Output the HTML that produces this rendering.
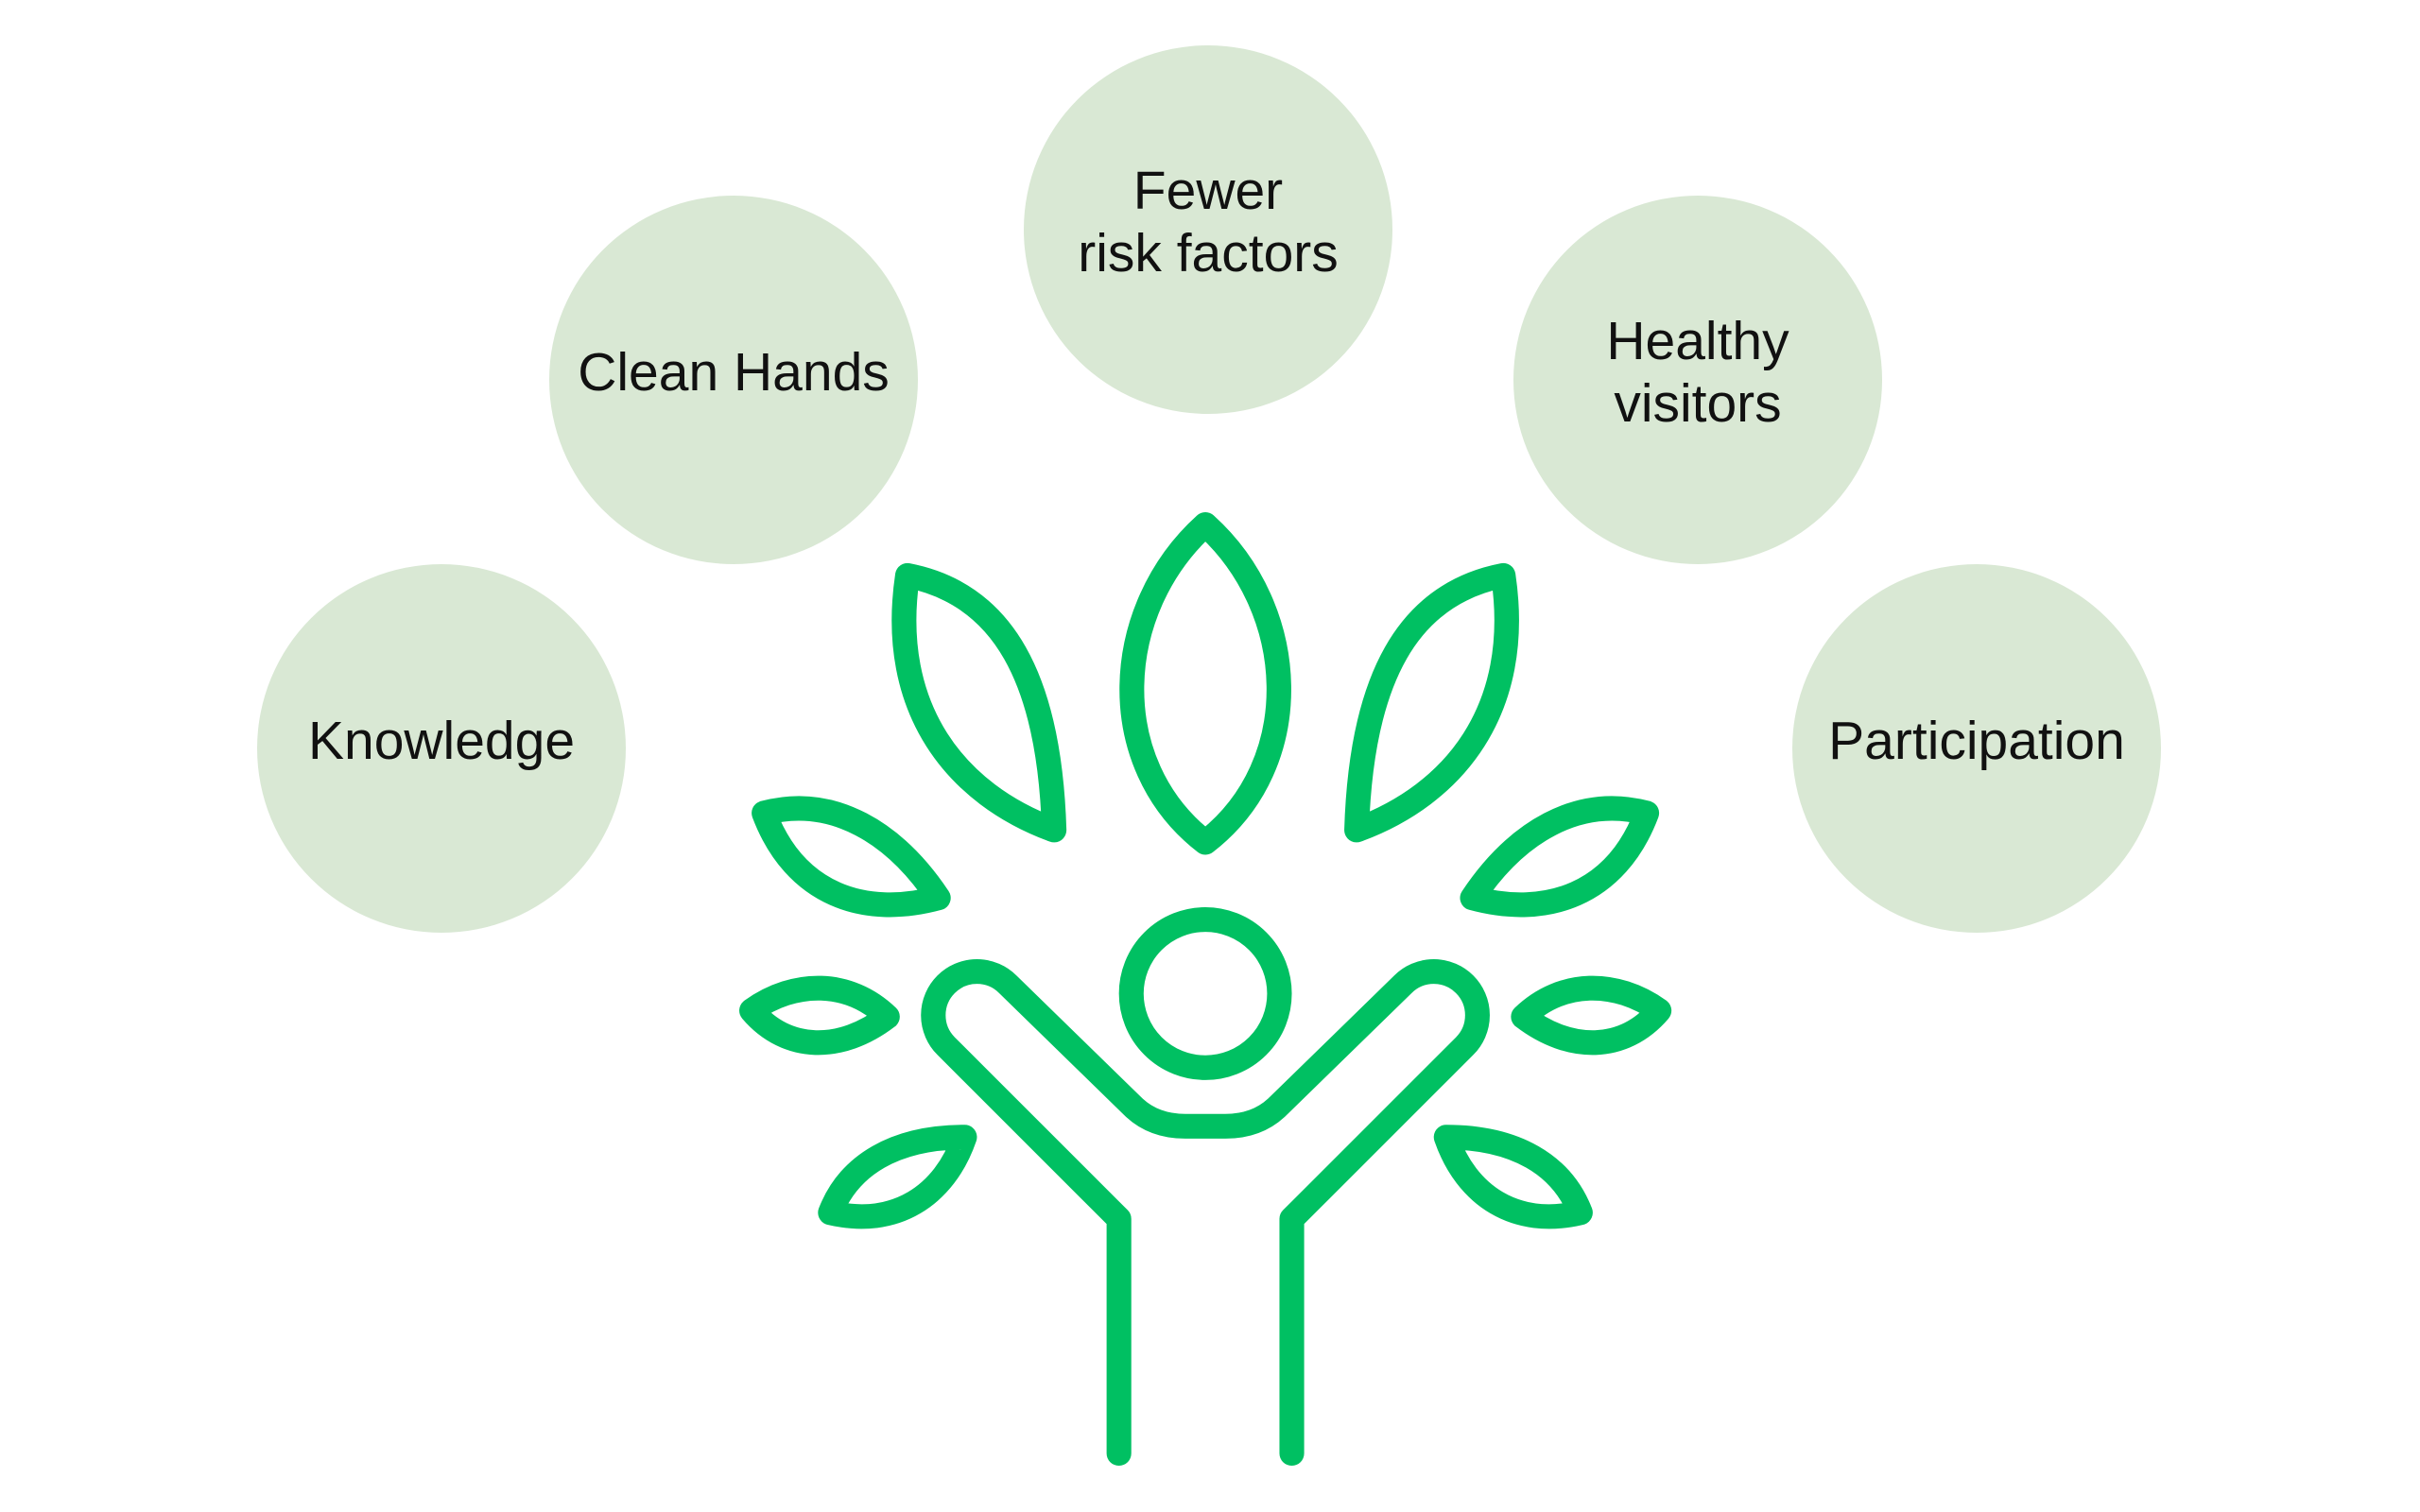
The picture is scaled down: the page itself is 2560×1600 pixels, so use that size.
<!DOCTYPE html>
<html><head><meta charset="utf-8"><style>
html,body{margin:0;padding:0;background:#fff;}
body{width:2560px;height:1600px;position:relative;overflow:hidden;font-family:"Liberation Sans",Arial,sans-serif;}
.c{position:absolute;width:390px;height:390px;border-radius:50%;background:#d9e8d4;display:flex;align-items:center;justify-content:center;text-align:center;font-size:57px;line-height:66px;color:#111;}
.c span{position:relative;top:-8px;}
svg{position:absolute;left:0;top:0;}
</style></head><body>
<div class="c" style="left:272px;top:597px"><span>Knowledge</span></div>
<div class="c" style="left:581px;top:207px"><span>Clean Hands</span></div>
<div class="c" style="left:1083px;top:48px"><span>Fewer<br>risk factors</span></div>
<div class="c" style="left:1601px;top:207px"><span>Healthy<br>visitors</span></div>
<div class="c" style="left:1896px;top:597px"><span>Participation</span></div>
<svg width="2560" height="1600" viewBox="0 0 1568 980">
<g fill="none" stroke="#00c062" stroke-width="16" stroke-linecap="round" stroke-linejoin="round">
<path d="M781,340 C720,395 715,495 781,546 C847,495 842,395 781,340 Z"/>
<path d="M588,373 C575,460 620,515 683,538 C680,440 650,385 588,373 Z"/>
<path d="M974,373 C987,460 942,515 879,538 C882,440 912,385 974,373 Z"/>
<path d="M495,527 C540,515 580,540 608,582 C560,595 515,580 495,527 Z"/>
<path d="M1067,527 C1022,515 982,540 954,582 C1002,595 1047,580 1067,527 Z"/>
<path d="M487,655 C515,635 550,635 575,659 C545,682 510,682 487,655 Z"/>
<path d="M1075,655 C1047,635 1012,635 987,659 C1017,682 1052,682 1075,655 Z"/>
<path d="M625,737 C580,737 550,755 538,786 C580,796 612,775 625,737 Z"/>
<path d="M937,737 C982,737 1012,755 1024,786 C982,796 950,775 937,737 Z"/>
<circle cx="781" cy="644" r="48"/>
<path d="M725,942 L725,790 L613,678 A28,28 0 0 1 653,638 L735,718 Q748,730 768,730 L794,730 Q814,730 827,718 L909,638 A28,28 0 0 1 949,678 L837,790 L837,942"/>
</g>
</svg>
</body></html>
